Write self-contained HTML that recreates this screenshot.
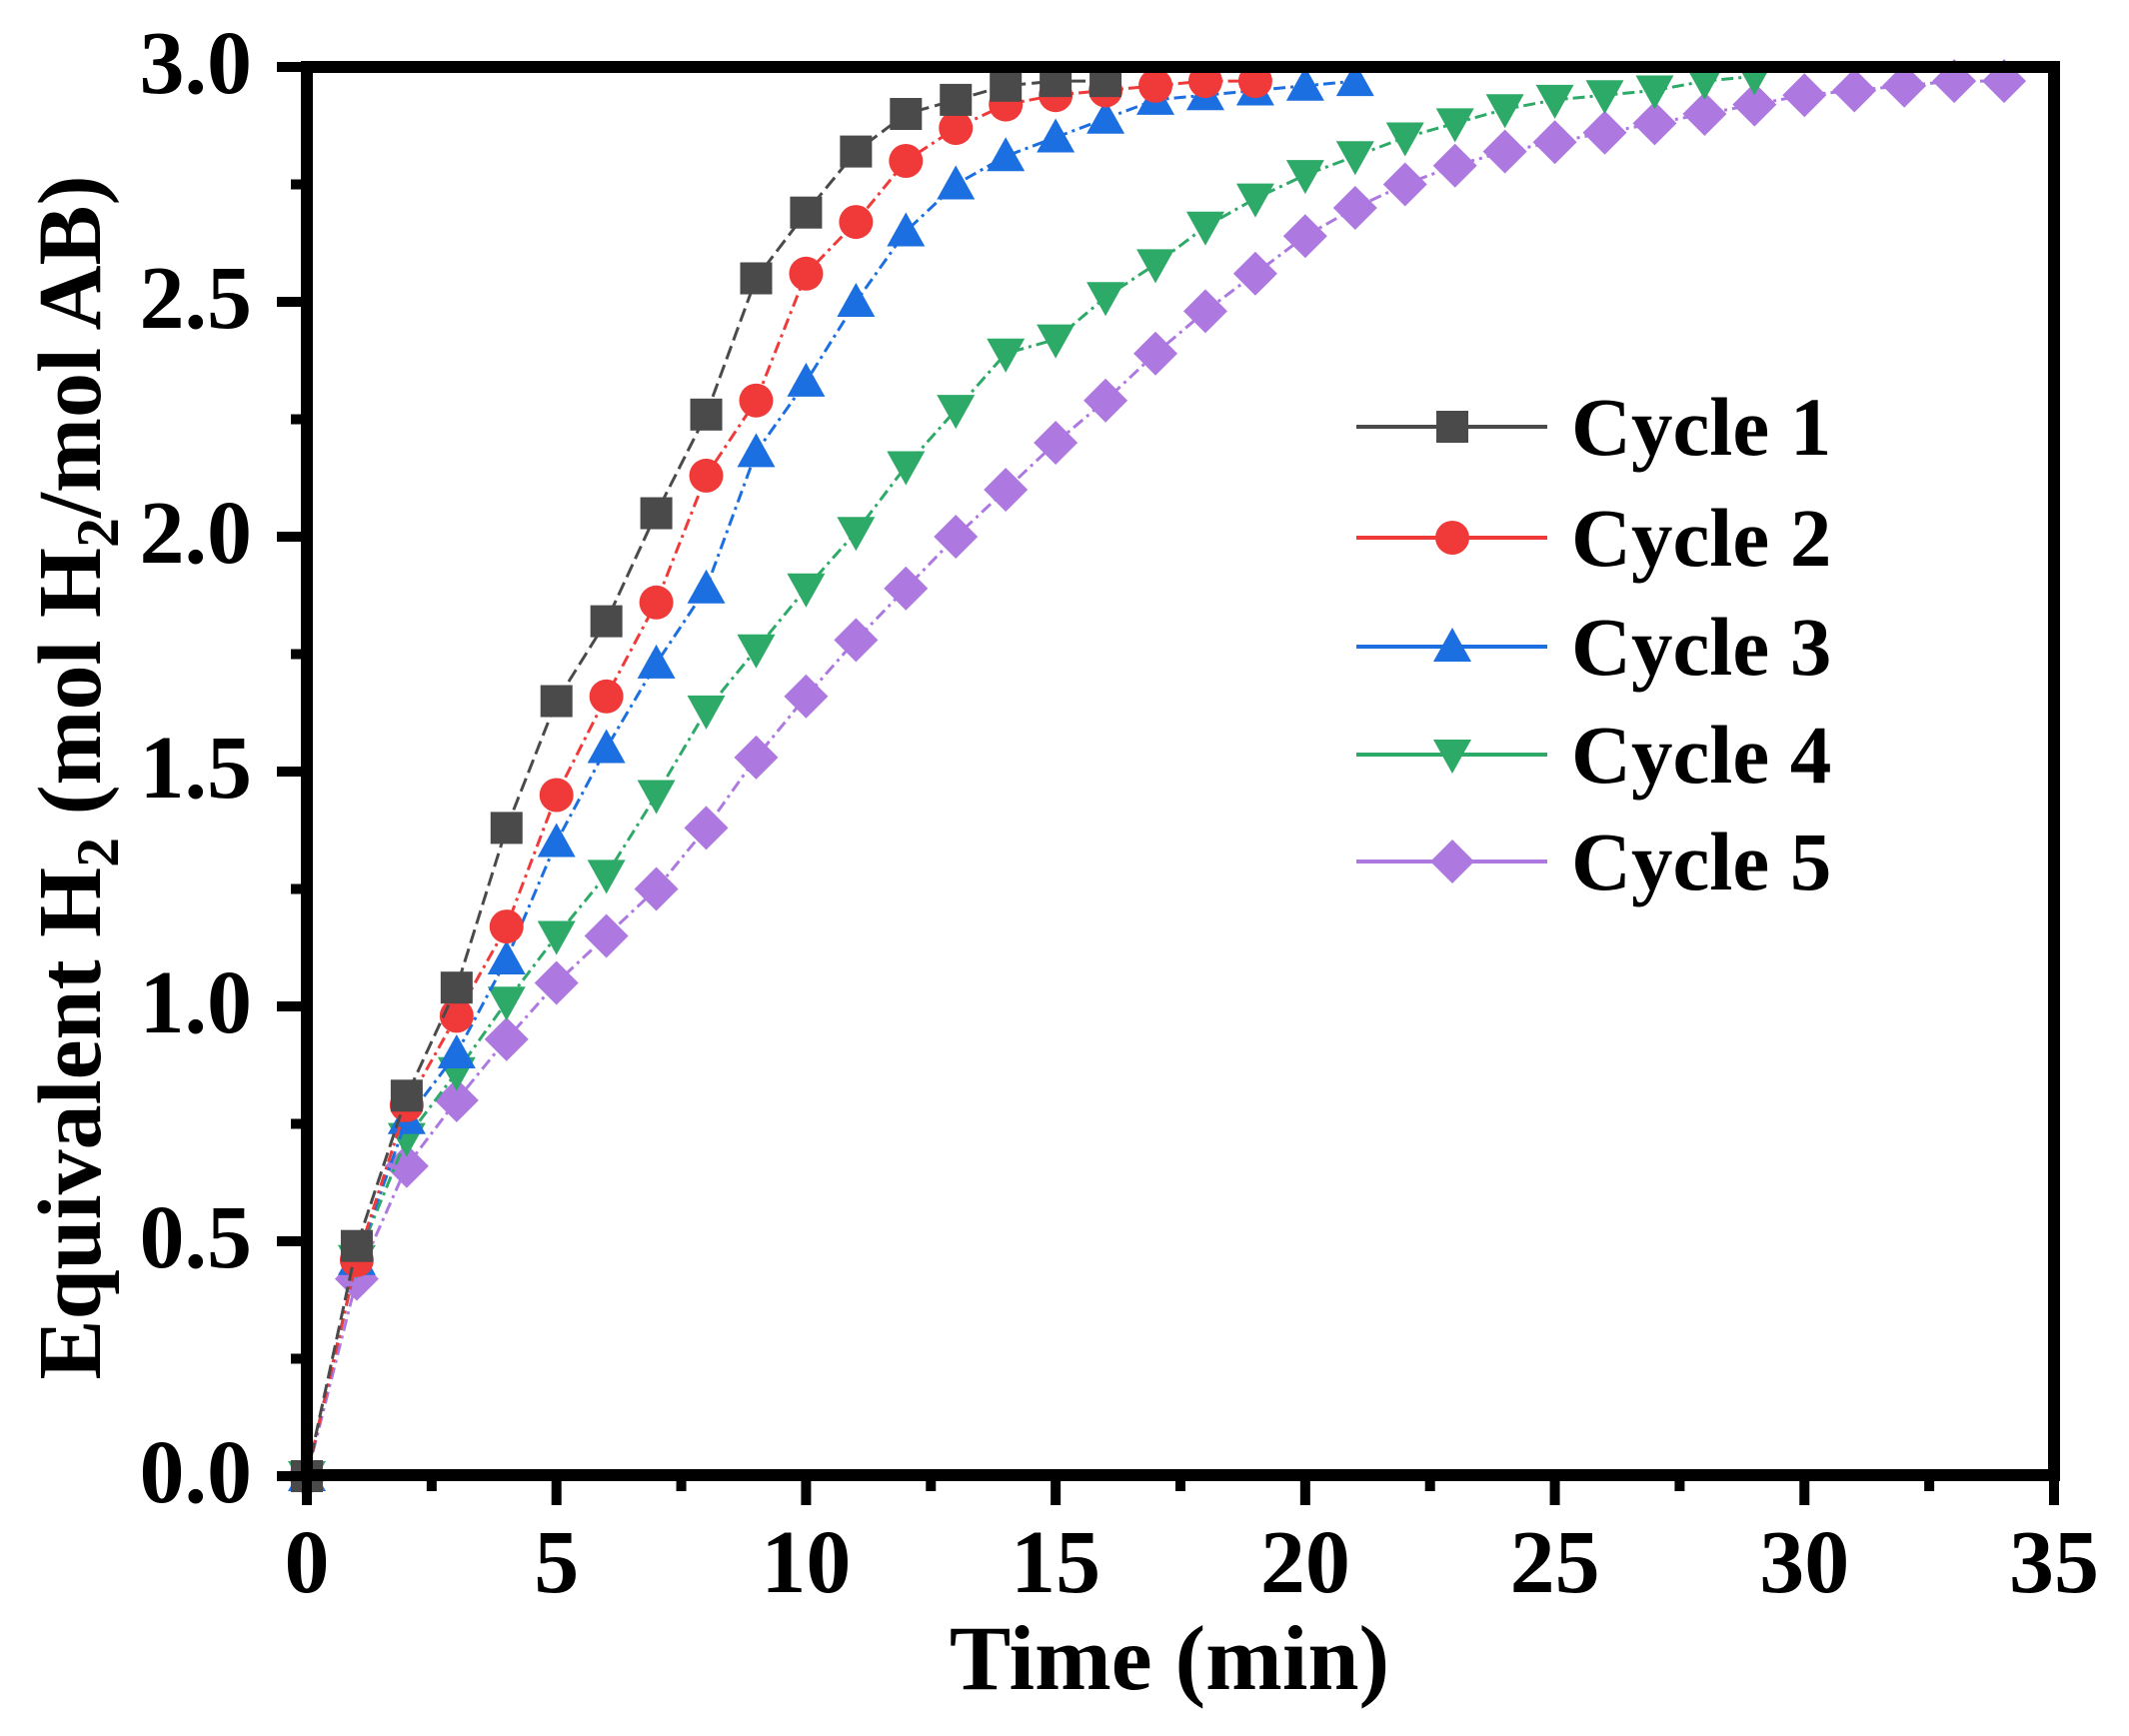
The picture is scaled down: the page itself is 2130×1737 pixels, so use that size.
<!DOCTYPE html>
<html><head><meta charset="utf-8"><style>html,body{margin:0;padding:0;background:#fff}svg{display:block}</style></head>
<body>
<svg id="s" width="2130" height="1737" xmlns="http://www.w3.org/2000/svg" font-family="Liberation Serif, serif" font-weight="bold">
<rect width="2130" height="1737" fill="#fff"/>
<g id="plot"></g>
<rect x="307" y="67" width="1748" height="1409" fill="none" stroke="#000" stroke-width="12"/>
<g id="ticks" stroke="#000" stroke-width="10"></g>
<g id="labels" font-size="90" fill="#000"></g>
<text x="1170" y="1690" font-size="92" text-anchor="middle">Time (min)</text>
<text transform="translate(100,778) rotate(-90)" font-size="90" text-anchor="middle">Equivalent H<tspan font-size="60" dy="18">2</tspan><tspan dy="-18"> (mol H</tspan><tspan font-size="60" dy="18">2</tspan><tspan dy="-18">/mol AB)</tspan></text>
<g id="legend" font-size="83"></g>
</svg>
<script>
var X0=307,XS=(2055-307)/35,Y0=1477,YS=470;
function px(t){return X0+t*XS} function py(v){return Y0-v*YS}
var NS="http://www.w3.org/2000/svg";
function el(p,n,a,txt){var e=document.createElementNS(NS,n);for(var k in a)e.setAttribute(k,a[k]);if(txt!=null)e.textContent=txt;p.appendChild(e);return e}
var T=document.getElementById('ticks'),L=document.getElementById('labels');
for(var t=0;t<=35;t+=2.5){var maj=(t%5==0);el(T,'line',{x1:px(t),x2:px(t),y1:1476,y2:1476+(maj?30:16)});
 if(maj)el(L,'text',{x:px(t),y:1593,'text-anchor':'middle'},String(t));}
for(var v=0;v<=3.0001;v+=0.25){var maj=Math.abs(v*2-Math.round(v*2))<1e-6;el(T,'line',{x1:307,x2:307-(maj?30:16),y1:py(v),y2:py(v)});
 if(maj)el(L,'text',{x:252,y:py(v)+26,'text-anchor':'end'},v.toFixed(1));}
var D=[
[0,0.49,0.81,1.04,1.38,1.65,1.82,2.05,2.26,2.55,2.69,2.82,2.90,2.93,2.96,2.97,2.97],
[0,0.46,0.79,0.98,1.17,1.45,1.66,1.86,2.13,2.29,2.56,2.67,2.80,2.87,2.92,2.94,2.95,2.96,2.97,2.97],
[0,0.46,0.76,0.90,1.10,1.35,1.55,1.73,1.89,2.18,2.33,2.50,2.65,2.75,2.81,2.85,2.89,2.93,2.94,2.95,2.96,2.97],
[0,0.46,0.72,0.86,1.01,1.15,1.28,1.45,1.63,1.76,1.89,2.01,2.15,2.27,2.39,2.42,2.51,2.58,2.66,2.72,2.77,2.81,2.85,2.88,2.91,2.93,2.94,2.95,2.97,2.98],
[0,0.42,0.66,0.80,0.93,1.05,1.15,1.25,1.38,1.53,1.66,1.78,1.89,2.00,2.10,2.20,2.29,2.39,2.48,2.56,2.64,2.70,2.75,2.79,2.82,2.84,2.86,2.88,2.90,2.92,2.94,2.95,2.96,2.97,2.97]];
var C=['#4a4a4a','#f03a3a','#1c6fe0','#2eaa68','#ad79e0'];
var DA=['14,6','12,5,3,5','12,5,3,5','12,5,3,5','12,5,3,5'];
function marker(g,i,x,y){var c=C[i],s=16;
 if(i==0)el(g,'rect',{x:x-s,y:y-s,width:2*s,height:2*s,fill:c});
 else if(i==1)el(g,'circle',{cx:x,cy:y,r:s+1,fill:c});
 else if(i==2)el(g,'polygon',{points:(x)+','+(y-s-3)+' '+(x+s+3)+','+(y+s-1)+' '+(x-s-3)+','+(y+s-1),fill:c});
 else if(i==3)el(g,'polygon',{points:(x)+','+(y+s+3)+' '+(x+s+3)+','+(y-s+1)+' '+(x-s-3)+','+(y-s+1),fill:c});
 else el(g,'polygon',{points:x+','+(y-s-6)+' '+(x+s+6)+','+y+' '+x+','+(y+s+6)+' '+(x-s-6)+','+y,fill:c});}
var P=document.getElementById('plot');
for(var i=4;i>=0;i--){var pts=D[i].map(function(v,k){return px(k)+','+py(v)}).join(' ');
 el(P,'polyline',{points:pts,fill:'none',stroke:C[i],'stroke-width':3,'stroke-dasharray':DA[i]});
 D[i].forEach(function(v,k){marker(P,i,px(k),py(v))});}
var G=document.getElementById('legend'),ly=[427,538,647,755,862];
for(var i=0;i<5;i++){el(G,'line',{x1:1357,x2:1548,y1:ly[i],y2:ly[i],stroke:C[i],'stroke-width':4});
 marker(G,i,1453,ly[i]);el(G,'text',{x:1572,y:ly[i]+28,fill:'#000'},'Cycle '+(i+1));}
</script>
</body></html>
